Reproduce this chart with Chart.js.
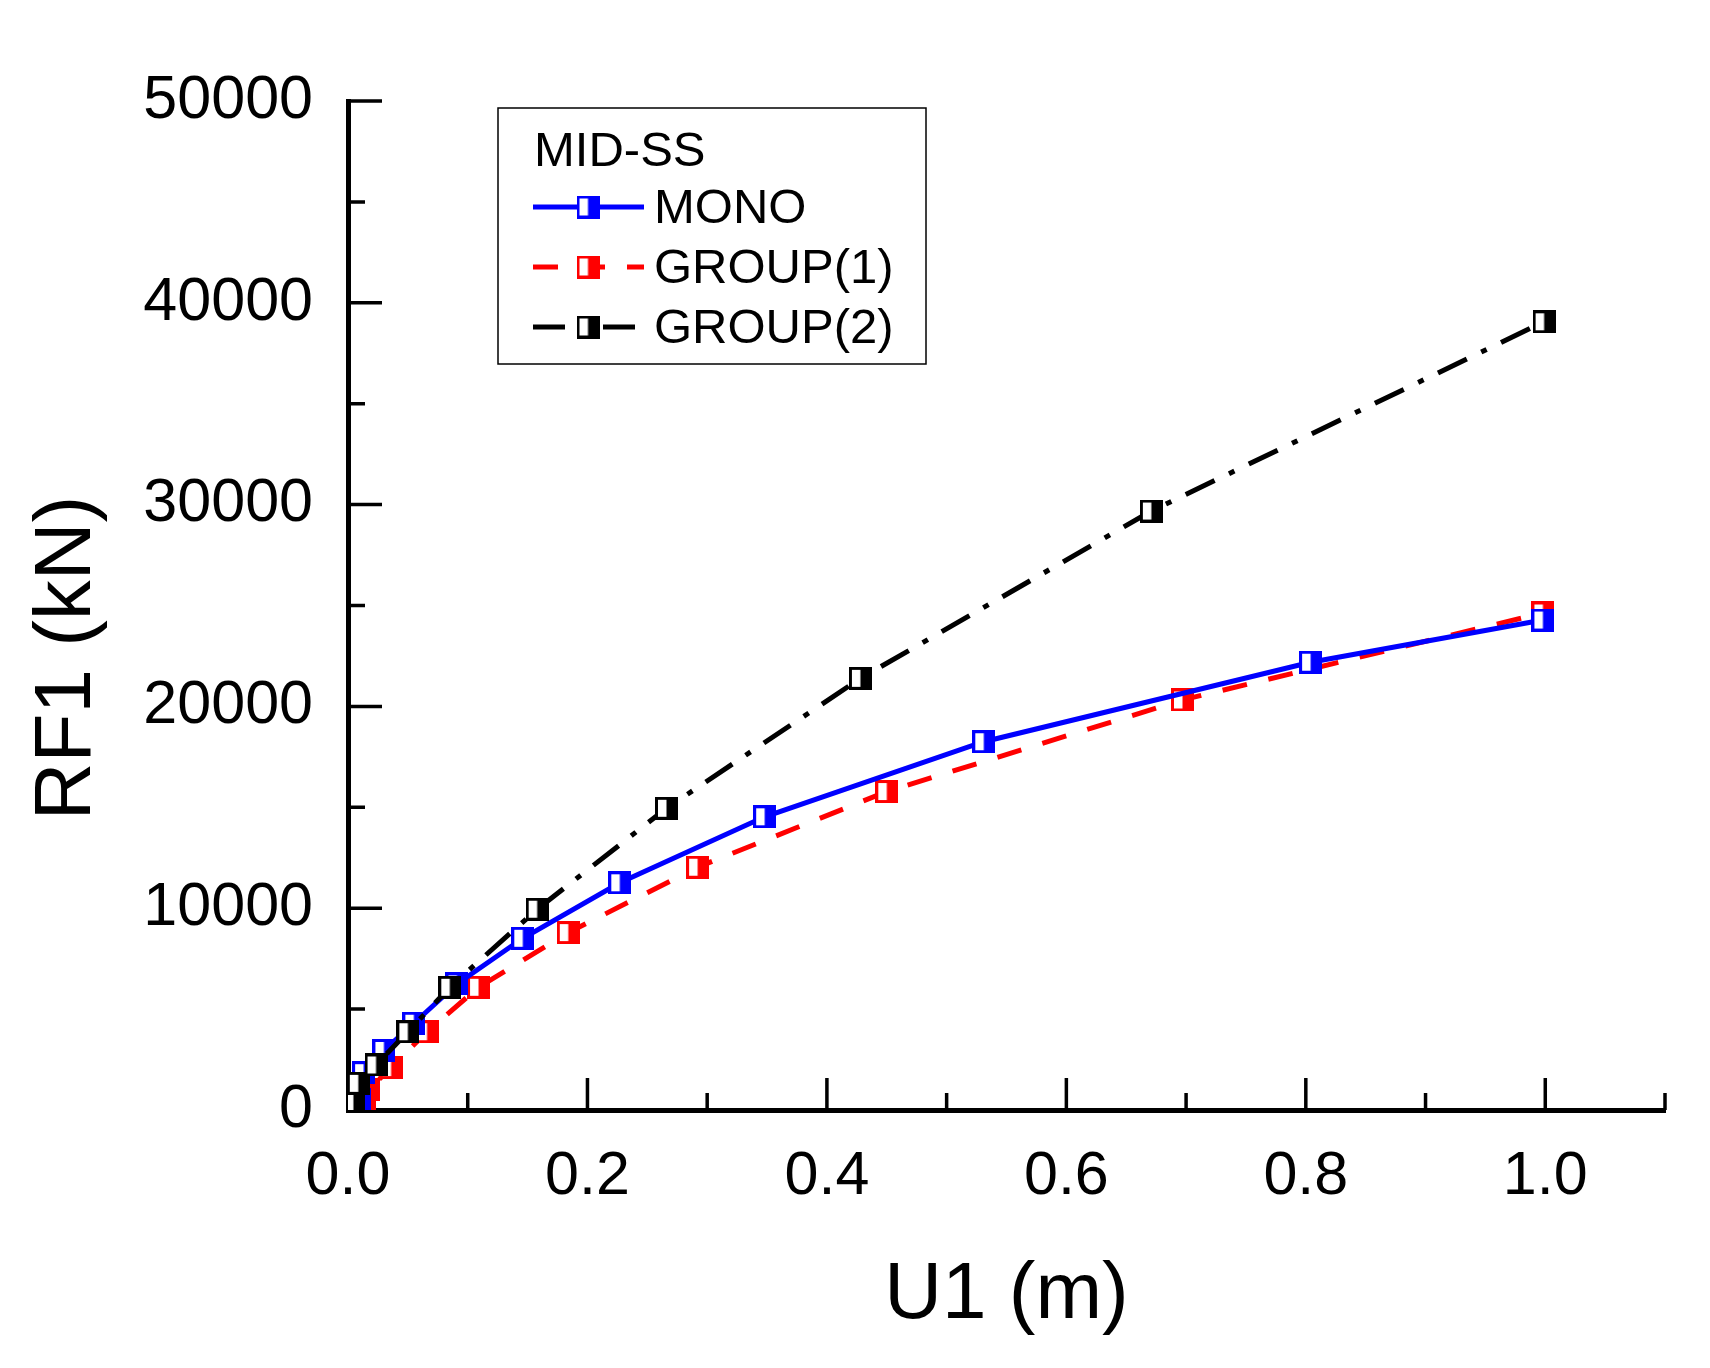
<!DOCTYPE html>
<html>
<head>
<meta charset="UTF-8">
<title>RF1 - U1 (MID-SS)</title>
<script src="https://cdn.jsdelivr.net/npm/chart.js"></script>
<style>
  body { margin: 0; background: #fff; }
</style>
</head>
<body>
<canvas id="chart" width="1710" height="1368"></canvas>
<script>
// values
const monoU1 = [0, 0.010, 0.013, 0.030, 0.055, 0.091, 0.146, 0.227, 0.348, 0.531, 0.804, 0.998];
const monoRF1 = [0, 500, 1850, 2950, 4300, 6250, 8510, 11260, 14530, 18250, 22190, 24280];

const group1U1 = [0, 0.014, 0.017, 0.036, 0.066, 0.109, 0.184, 0.292, 0.450, 0.697, 0.998];
const group1RF1 = [0, 350, 1000, 2100, 3880, 6080, 8790, 12030, 15780, 20320, 24630];

const group2U1 = [0, 0.0045, 0.0086, 0.0234, 0.050, 0.085, 0.158, 0.266, 0.428, 0.671, 0.999];
const group2RF1 = [0, 410, 1320, 2230, 3880, 6080, 9950, 14950, 21390, 29680, 39060];

const xTickLabels = ['0.0', '0.2', '0.4', '0.6', '0.8', '1.0'];
const yTickLabels = ['0', '10000', '20000', '30000', '40000', '50000'];

const FONT = '"Liberation Sans", Arial, sans-serif';

function pts(xs, ys) {
    return xs.map((x, i) => ({ x: x, y: ys[i] }));
}

// half open / half filled square marker
function halfSquare(color) {
    const n = 23;
    const c = document.createElement('canvas');
    c.width = n; c.height = n;
    const g = c.getContext('2d');
    g.fillStyle = '#fff';
    g.fillRect(0, 0, n, n);
    g.fillStyle = color;
    g.fillRect(n / 2, 0, n / 2, n);
    g.strokeStyle = color;
    g.lineWidth = 3;
    g.strokeRect(1.5, 1.5, n - 3, n - 3);
    return c;
}

// inner ticks (major + minor), axis titles and the boxed legend
const decor = {
    id: 'decor',
    beforeDatasetsDraw(chart) {
        const ctx = chart.ctx;
        const xs = chart.scales.x, ys = chart.scales.y;
        const a = chart.chartArea;
        ctx.save();
        ctx.strokeStyle = '#000';
        ctx.lineWidth = 3.5;
        ctx.beginPath();
        xs.ticks.forEach(t => {
            const px = xs.getPixelForValue(t.value);
            const major = Math.round(t.value * 10) % 2 === 0;
            ctx.moveTo(px, a.bottom);
            ctx.lineTo(px, a.bottom - (major ? 32 : 17));
        });
        ys.ticks.forEach(t => {
            const py = ys.getPixelForValue(t.value);
            const major = Math.round(t.value) % 10000 === 0;
            ctx.moveTo(a.left, py);
            ctx.lineTo(a.left + (major ? 34 : 17), py);
        });
        ctx.stroke();
        ctx.restore();
    },
    afterDraw(chart) {
        const ctx = chart.ctx;
        const a = chart.chartArea;
        ctx.save();
        ctx.fillStyle = '#000';

        // axis titles
        ctx.font = '80px ' + FONT;
        ctx.textAlign = 'center';
        ctx.textBaseline = 'alphabetic';
        ctx.fillText('U1 (m)', (a.left + a.right) / 2, 1318);
        ctx.save();
        ctx.translate(90, 658);
        ctx.rotate(-Math.PI / 2);
        ctx.fillText('RF1 (kN)', 0, 0);
        ctx.restore();

        // legend
        const lx = a.left + 150, ly = a.top + 7;
        ctx.strokeStyle = '#000';
        ctx.lineWidth = 1.5;
        ctx.strokeRect(lx, ly, 428, 256);
        ctx.font = '49px ' + FONT;
        ctx.textAlign = 'left';
        ctx.fillText('MID-SS', lx + 36, ly + 58);
        const order = [0, 1, 2];
        order.forEach((di, i) => {
            const ds = chart.data.datasets[di];
            const y = ly + 99 + i * 60;
            ctx.save();
            ctx.strokeStyle = ds.borderColor;
            ctx.lineWidth = ds.borderWidth;
            ctx.setLineDash(ds.borderDash || []);
            ctx.beginPath();
            ctx.moveTo(lx + 35, y);
            ctx.lineTo(lx + 146, y);
            ctx.stroke();
            ctx.restore();
            const m = ds.pointStyle;
            ctx.drawImage(m, lx + 90 - m.width / 2, y - m.height / 2);
            ctx.textBaseline = 'middle';
            ctx.fillText(ds.label, lx + 156, y + 2);
        });
        ctx.restore();
    }
};

new Chart(document.getElementById('chart'), {
    type: 'line',
    data: {
        datasets: [
            { label: 'MONO', data: pts(monoU1, monoRF1), borderColor: '#0000ff', borderWidth: 5,
              pointStyle: halfSquare('#0000ff'), pointRadius: 11, tension: 0, fill: false, order: 1 },
            { label: 'GROUP(1)', data: pts(group1U1, group1RF1), borderColor: '#ff0000', borderWidth: 5,
              borderDash: [25, 22], pointStyle: halfSquare('#ff0000'), pointRadius: 11, tension: 0, fill: false, order: 2 },
            { label: 'GROUP(2)', data: pts(group2U1, group2RF1), borderColor: '#000000', borderWidth: 5,
              borderDash: [32, 16, 6, 16], pointStyle: halfSquare('#000000'), pointRadius: 11, tension: 0, fill: false, order: 0 }
        ]
    },
    options: {
        responsive: false,
        animation: false,
        layout: { padding: { left: 0, top: 101, right: 45, bottom: 0 } },
        plugins: { legend: { display: false }, tooltip: { enabled: false } },
        scales: {
            x: {
                type: 'linear', min: 0, max: 1.1,
                grid: { display: false },
                border: { display: true, color: '#000', width: 5 },
                ticks: {
                    stepSize: 0.1, autoSkip: false, maxRotation: 0, maxTicksLimit: 20,
                    padding: 23, color: '#000', font: { family: FONT, size: 61 },
                    callback: v => {
                        const k = Math.round(v * 10);
                        return k % 2 === 0 ? xTickLabels[k / 2] : '';
                    }
                },
                afterFit: s => { s.height = 258; }
            },
            y: {
                min: 0, max: 50000,
                grid: { display: false },
                border: { display: true, color: '#000', width: 5 },
                ticks: {
                    stepSize: 5000, autoSkip: false, maxTicksLimit: 20,
                    padding: 27, color: '#000', font: { family: FONT, size: 61 },
                    callback: v => (Math.round(v) % 10000 === 0 ? yTickLabels[Math.round(v) / 10000] : '')
                },
                afterFit: s => { s.width = 348; }
            }
        }
    },
    plugins: [decor]
});
</script>
</body>
</html>
